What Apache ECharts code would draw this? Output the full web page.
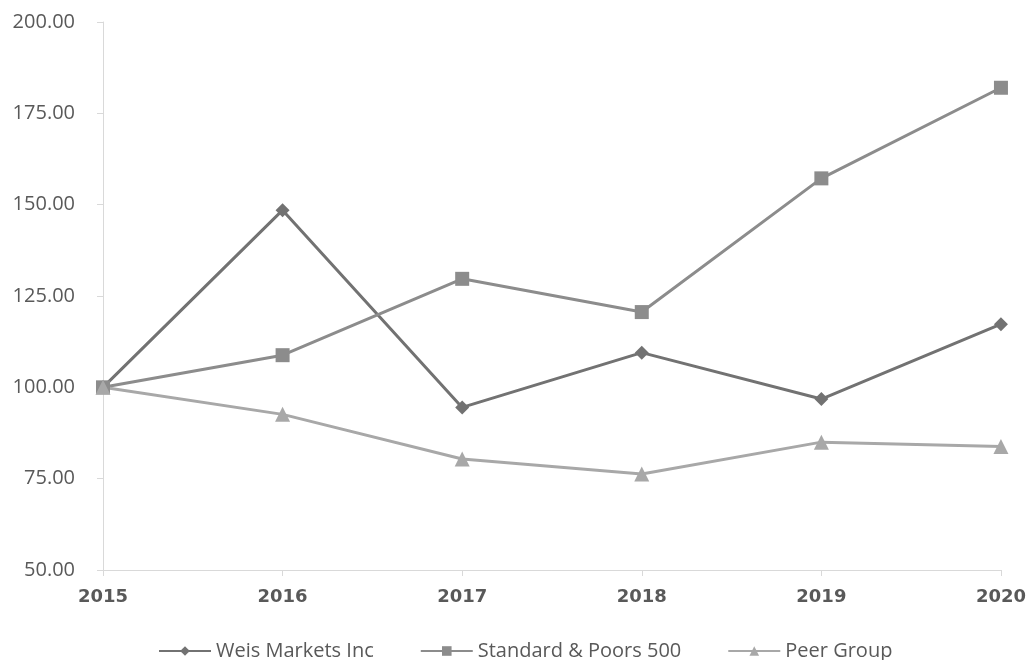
<!DOCTYPE html>
<html>
<head>
<meta charset="utf-8">
<script src="https://cdn.jsdelivr.net/npm/echarts@6/dist/echarts.min.js"></script>
<style>
  html, body { margin: 0; padding: 0; background: #fff; }
  #chart { width: 1029px; height: 660px; }
</style>
</head>
<body>
<div id="chart"></div>
<script>
  var years = ['2015', '2016', '2017', '2018', '2019', '2020']
  var weis = [100, 148.5, 94.5, 109.5, 96.8, 117.3]
  var sp500 = [100, 108.8, 129.7, 120.6, 157.2, 182]
  var peer = [100, 92.6, 80.4, 76.3, 85, 83.8]

  var chart = echarts.init(document.getElementById('chart'))
  var option = {
    animation: false,
    textStyle: { fontFamily: 'Open Sans' },
    grid: { left: 103, right: 26, top: 22, bottom: 90 },
    legend: {
      top: 636,
      left: 153,
      itemGap: 46,
      itemWidth: 52,
      itemHeight: 12,
      textStyle: { color: '#595959', fontSize: 20, fontFamily: 'Open Sans' },
      data: ['Weis Markets Inc', 'Standard & Poors 500', 'Peer Group']
    },
    xAxis: {
      type: 'category',
      boundaryGap: false,
      data: years,
      axisLine: { lineStyle: { color: '#d9d9d9', width: 1 } },
      axisTick: { show: true, length: 6, lineStyle: { color: '#d9d9d9' } },
      axisLabel: { color: '#595959', fontSize: 18, fontWeight: 'bold', margin: 18, fontFamily: 'DejaVu Sans' }
    },
    yAxis: {
      type: 'value',
      min: 50,
      max: 200,
      interval: 25,
      axisLine: { show: true, lineStyle: { color: '#d9d9d9', width: 1 } },
      axisTick: { show: true, length: 6, lineStyle: { color: '#d9d9d9' } },
      splitLine: { show: false },
      axisLabel: {
        color: '#595959', fontSize: 20, margin: 28,
        formatter: function (v) { return v.toFixed(2) }
      }
    },
    series: [
      {
        name: 'Weis Markets Inc', type: 'line', data: weis,
        symbol: 'diamond', symbolSize: 14, showAllSymbol: true,
        lineStyle: { color: '#727272', width: 3 },
        itemStyle: { color: '#727272' }
      },
      {
        name: 'Standard & Poors 500', type: 'line', data: sp500,
        symbol: 'rect', symbolSize: 14,
        lineStyle: { color: '#8c8c8c', width: 3 },
        itemStyle: { color: '#8c8c8c' }
      },
      {
        name: 'Peer Group', type: 'line', data: peer,
        symbol: 'triangle', symbolSize: 15,
        lineStyle: { color: '#a8a8a8', width: 3 },
        itemStyle: { color: '#a8a8a8' }
      }
    ]
  }
  chart.setOption(option)
</script>
</body>
</html>
